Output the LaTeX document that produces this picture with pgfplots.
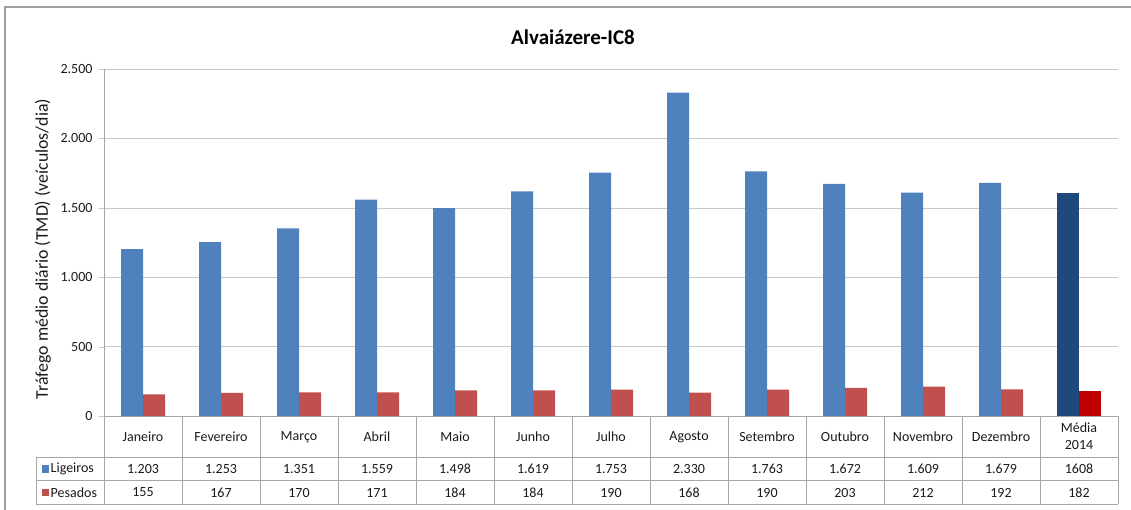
\documentclass[border=0pt]{standalone}
\usepackage{fontspec}
\setmainfont{Carlito}
\usepackage{pgfplots}
\pgfplotsset{compat=1.18}
\usepackage{pgfplotstable}

\definecolor{lig}{HTML}{4F81BD}
\definecolor{pes}{HTML}{C0504D}
\definecolor{ligm}{HTML}{1F497D}
\definecolor{pesm}{HTML}{C00000}
\definecolor{gridc}{HTML}{C8C8C8}
\definecolor{tabc}{HTML}{A6A6A6}
\definecolor{txt}{HTML}{1A1A1A}

% meses (0 = Janeiro ... 11 = Dezembro)
\pgfplotstableread{
x lig pes
0 1203 155
1 1253 167
2 1351 170
3 1559 171
4 1498 184
5 1619 184
6 1753 190
7 2330 168
8 1763 190
9 1672 203
10 1609 212
11 1679 192
}\meses
% media 2014
\pgfplotstableread{
x lig pes
12 1608 182
}\media

\begin{document}
\begin{tikzpicture}[x=1pt,y=1pt]
\useasboundingbox (0,0) rectangle (1131,-509);
% moldura do grafico
\draw[gray!75, line width=1.2pt] (5,-520) -- (5,-7) -- (1140,-7);
\node[font=\fontsize{21}{25}\selectfont\bfseries, text=black] at (573,-37) {Alvaiázere-IC8};
\node[rotate=90, font=\fontsize{17.8}{20}\selectfont, text=txt] at (43,-249) {Tráfego médio diário (TMD) (veículos/dia)};

\begin{axis}[
  at={(104pt,-416pt)}, anchor=south west,
  scale only axis, width=1014pt, height=347pt,
  xmin=-0.5, xmax=12.5, ymin=0, ymax=2500,
  axis x line=bottom, axis y line=left,
  axis line style={-, draw=tabc},
  xtick=\empty,
  ytick={0,500,1000,1500,2000,2500},
  ymajorgrids, grid style={gridc},
  tick align=outside, major tick length=5pt,
  tick style={gridc},
  /pgf/number format/1000 sep={.},
  /pgf/number format/assume math mode=true,
  yticklabel style={font=\fontsize{14}{16}\selectfont, text=txt, xshift=-3pt},
  ybar, bar width=22pt,
  clip=false,
]
\addplot[fill=lig, draw=none, bar shift=-11pt] table[x=x, y=lig] {\meses};
\addplot[fill=pes, draw=none, bar shift=11pt] table[x=x, y=pes] {\meses};
\addplot[fill=ligm, draw=none, bar shift=-11pt] table[x=x, y=lig] {\media};
\addplot[fill=pesm, draw=none, bar shift=11pt] table[x=x, y=pes] {\media};
\end{axis}

% tabela de dados
\begin{scope}[tabc, line width=0.8pt]
\foreach \k in {0,...,13} \draw (104+78*\k,-416) -- (104+78*\k,-504);
\draw (36,-457) -- (1118,-457);
\draw (36,-480.5) -- (1118,-480.5);
\draw (36,-504) -- (1118,-504);
\draw (36,-457) -- (36,-504);
\end{scope}

\begin{scope}[font=\fontsize{14}{16}\selectfont, text=txt]
\foreach \n [count=\i from 0] in {Janeiro,Fevereiro,Março,Abril,Maio,Junho,Julho,Agosto,Setembro,Outubro,Novembro,Dezembro}
  \node at (143+78*\i,-437) {\n};
\node[align=center, font=\fontsize{14}{17}\selectfont] at (143+78*12,-436.5) {Média\\2014};
\foreach \v [count=\i from 0] in {1.203,1.253,1.351,1.559,1.498,1.619,1.753,2.330,1.763,1.672,1.609,1.679,1608}
  \node at (143+78*\i,-469) {\v};
\foreach \v [count=\i from 0] in {155,167,170,171,184,184,190,168,190,203,212,192,182}
  \node at (143+78*\i,-492.5) {\v};
\fill[lig] (41.5,-465) rectangle (48.5,-472.5);
\fill[pes] (41.5,-488.5) rectangle (48.5,-496);
\node[anchor=west, inner sep=0pt] at (50.5,-469) {Ligeiros};
\node[anchor=west, inner sep=0pt] at (50.5,-492.5) {Pesados};
\end{scope}
\end{tikzpicture}
\end{document}
